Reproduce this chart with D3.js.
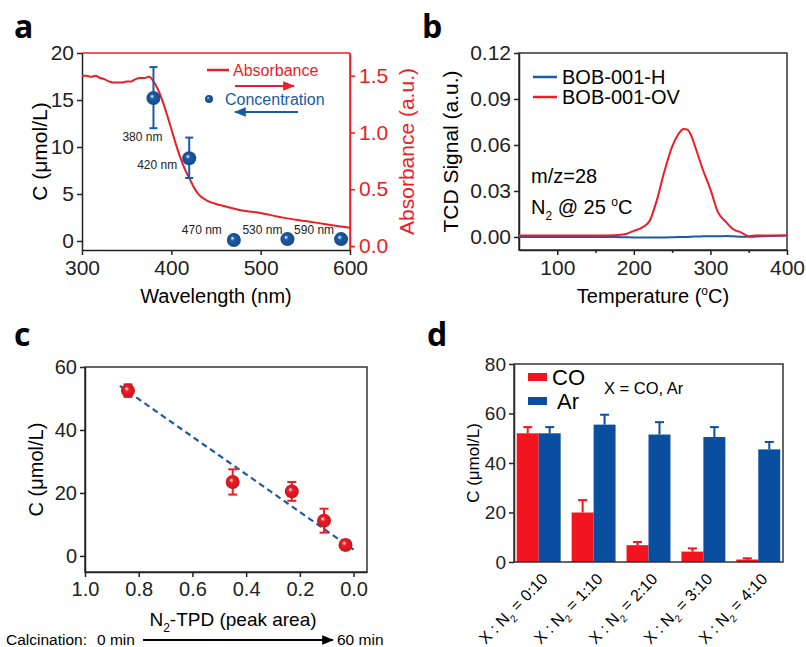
<!DOCTYPE html>
<html>
<head>
<meta charset="utf-8">
<script src="https://cdn.jsdelivr.net/npm/d3@7"></script>
<style>
  body { margin: 0; background: #fff; }
  text { font-family: "Liberation Sans", Arial, sans-serif; }
  .lbl { font-family: "Open Sans", "Liberation Sans", sans-serif; font-weight: bold; font-size: 32px; }
</style>
</head>
<body>
<script>
// ---- data, panel a
var absWl  = [300,305,310,315,320,325,330,335,340,345,350,355,360,365,370,375,380,385,390,395,400,405,410,415,420,425,430,440,450,460,475,500,525,550,575,600];
var absVal = [1.50,1.50,1.49,1.50,1.48,1.47,1.45,1.44,1.44,1.44,1.45,1.45,1.47,1.48,1.48,1.49,1.45,1.38,1.28,1.16,1.03,0.90,0.78,0.68,0.60,0.52,0.46,0.40,0.37,0.35,0.32,0.29,0.25,0.22,0.19,0.16];
var concWl  = [380, 420, 470, 530, 590];
var concVal = [15.2, 8.8, 0.1, 0.2, 0.2];
var concLo  = [12.0, 6.7, 0.1, 0.2, 0.2];
var concHi  = [18.5, 11.0, 0.1, 0.2, 0.2];

// ---- data, panel b
var tcdT  = [50,100,150,175,190,200,210,220,230,240,250,258,265,270,275,280,290,300,310,320,330,340,350,360,380,400];
var tcdOV = [0.001,0.001,0.001,0.0012,0.002,0.004,0.006,0.010,0.024,0.043,0.059,0.067,0.0705,0.070,0.066,0.059,0.044,0.031,0.016,0.010,0.005,0.003,0.0005,0.001,0.001,0.0012];
var tcdH  = [0,0,0,0,-0.0002,-0.0003,-0.0003,-0.0004,-0.0003,-0.0003,-0.0002,0,0,0,0.0002,0.0003,0.0004,0.0005,0.0005,0.0006,0.0004,0.0002,0.0001,0.0003,0.0006,0.001];

// ---- data, panel c
var tpdArea = [0.84, 0.45, 0.23, 0.11, 0.03];
var tpdC    = [52.5, 23.5, 20.5, 11.2, 3.5];
var tpdErr  = [2.0, 4.0, 3.0, 3.8, 1.5];
var fitX = [0.87, 0.0];
var fitY = [54.0, 2.0];

// ---- data, panel d
var ratios = ["0:10", "1:10", "2:10", "3:10", "4:10"];
var coVal = [52, 20, 6.8, 4.2, 1.0];
var coErr = [2.5, 5.0, 1.3, 1.3, 0.5];
var arVal = [52, 55.5, 51.5, 50.5, 45.5];
var arErr = [2.5, 4.0, 5.0, 4.0, 3.0];

var RED = "#ee1c25", BLUE = "#1b5aa5", BARRED = "#f2141e", BARBLUE = "#0a4f9f";

var svg = d3.select("body").append("svg").attr("width", 806).attr("height", 647);
var defs = svg.append("defs");

function sphereGrad(id, col) {
  var g = defs.append("radialGradient").attr("id", id)
    .attr("cx", "50%").attr("cy", "50%").attr("r", "55%").attr("fx", "38%").attr("fy", "35%");
  g.append("stop").attr("offset", "0%").attr("stop-color", "#ffffff");
  g.append("stop").attr("offset", "30%").attr("stop-color", col);
  g.append("stop").attr("offset", "100%").attr("stop-color", d3.color(col).darker(0.6));
}
sphereGrad("sphB", BLUE);
sphereGrad("sphR", RED);

function arrowHead(id, col) {
  defs.append("marker").attr("id", id).attr("viewBox", "0 0 10 10").attr("refX", 9).attr("refY", 5)
    .attr("markerWidth", 6).attr("markerHeight", 6).attr("orient", "auto")
    .append("path").attr("d", "M0,1L10,5L0,9z").attr("fill", col);
}
arrowHead("arR", RED); arrowHead("arB", BLUE); arrowHead("arK", "#000");

function styleAxis(g, col, fs) {
  g.selectAll("path, line").attr("stroke", col).attr("stroke-width", 1.5);
  g.selectAll("text").attr("fill", col).style("font-size", fs + "px")
    .style("font-family", "'Liberation Sans', Arial, sans-serif");
}

function frame(l, r, t, b, col) {
  svg.append("rect").attr("x", l).attr("y", t).attr("width", r - l).attr("height", b - t)
    .attr("fill", "none").attr("stroke", col || "#333").attr("stroke-width", 1.5);
}

// ================= panel a =================
(function() {
  var L = 82, R = 350, T = 53, B = 250;
  var x = d3.scaleLinear().domain([300, 600]).range([L, R]);
  var y = d3.scaleLinear().domain([-0.96, 20]).range([B, T]);
  var y2 = d3.scaleLinear().domain([-0.035, 1.70]).range([B, T]);

  // red top + right
  svg.append("line").attr("x1", L).attr("x2", R).attr("y1", T).attr("y2", T).attr("stroke", RED).attr("stroke-width", 1.5);
  svg.append("line").attr("x1", R).attr("x2", R).attr("y1", T).attr("y2", B).attr("stroke", RED).attr("stroke-width", 1.5);

  var gx = svg.append("g").attr("transform", "translate(0," + B + ")")
    .call(d3.axisBottom(x).tickValues([300, 400, 500, 600]).tickSize(5).tickSizeOuter(0).tickPadding(5));
  styleAxis(gx, "#222", 21);
  var gy = svg.append("g").attr("transform", "translate(" + L + ",0)")
    .call(d3.axisLeft(y).tickValues([0, 5, 10, 15, 20]).tickSize(5).tickSizeOuter(0).tickPadding(3));
  styleAxis(gy, "#222", 21);
  var gy2 = svg.append("g").attr("transform", "translate(" + R + ",0)")
    .call(d3.axisRight(y2).tickValues([0, 0.5, 1.0, 1.5]).tickFormat(d3.format(".1f")).tickSize(5).tickSizeOuter(0).tickPadding(4));
  styleAxis(gy2, RED, 21);

  svg.append("text").attr("x", (L + R) / 2).attr("y", 303).attr("text-anchor", "middle")
    .style("font-size", "20px").text("Wavelength (nm)");
  svg.append("text").attr("transform", "translate(47," + ((T + B) / 2) + ") rotate(-90)")
    .attr("text-anchor", "middle").style("font-size", "21px").text("C (\u03bcmol/L)");
  svg.append("text").attr("transform", "translate(414," + ((T + B) / 2) + ") rotate(-90)")
    .attr("text-anchor", "middle").attr("fill", RED).style("font-size", "21px").text("Absorbance (a.u.)");

  var line = d3.line().x(function(d, i) { return x(absWl[i]); }).y(function(d) { return y2(d); }).curve(d3.curveMonotoneX);
  svg.append("path").attr("d", line(absVal)).attr("fill", "none").attr("stroke", RED).attr("stroke-width", 2);

  // error bars + spheres
  concWl.forEach(function(w, i) {
    if (concHi[i] - concLo[i] > 0.5) {
      svg.append("line").attr("x1", x(w)).attr("x2", x(w)).attr("y1", y(concLo[i])).attr("y2", y(concHi[i]))
        .attr("stroke", BLUE).attr("stroke-width", 2);
      [concLo[i], concHi[i]].forEach(function(v) {
        svg.append("line").attr("x1", x(w) - 4).attr("x2", x(w) + 4).attr("y1", y(v)).attr("y2", y(v))
          .attr("stroke", BLUE).attr("stroke-width", 2);
      });
    }
    svg.append("circle").attr("cx", x(w)).attr("cy", y(concVal[i])).attr("r", 7).attr("fill", "url(#sphB)");
  });
  // label offsets from each point
  var nmOff = [[-11, 39], [-32, 7], [-32, -10], [-25, -9], [-27, -9]];
  concWl.forEach(function(w, i) {
    svg.append("text").attr("x", x(w) + nmOff[i][0]).attr("y", y(concVal[i]) + nmOff[i][1]).attr("dy", "0.35em")
      .attr("text-anchor", "middle").style("font-size", "12px").attr("fill", "#222").text(w + " nm");
  });

  // legend
  svg.append("line").attr("x1", 207).attr("x2", 229).attr("y1", 70).attr("y2", 70).attr("stroke", RED).attr("stroke-width", 2.5);
  svg.append("text").attr("x", 233).attr("y", 70).attr("dy", "0.35em").attr("fill", RED).style("font-size", "16px").text("Absorbance");
  svg.append("line").attr("x1", 235).attr("x2", 294).attr("y1", 86).attr("y2", 86).attr("stroke", RED).attr("stroke-width", 2).attr("marker-end", "url(#arR)");
  svg.append("circle").attr("cx", 209).attr("cy", 99).attr("r", 4).attr("fill", "url(#sphB)");
  svg.append("text").attr("x", 225).attr("y", 99).attr("dy", "0.35em").attr("fill", BLUE).style("font-size", "16px").text("Concentration");
  svg.append("line").attr("x1", 298).attr("x2", 235).attr("y1", 112).attr("y2", 112).attr("stroke", BLUE).attr("stroke-width", 2).attr("marker-end", "url(#arB)");

  svg.append("text").attr("class", "lbl").attr("x", 14).attr("y", 38).text("a");
})();

// ================= panel b =================
(function() {
  var L = 519, R = 787, T = 53, B = 250;
  var x = d3.scaleLinear().domain([50, 400]).range([L, R]);
  var y = d3.scaleLinear().domain([-0.0085, 0.12]).range([B, T]);
  frame(L, R, T, B, "#333");

  var gx = svg.append("g").attr("transform", "translate(0," + B + ")")
    .call(d3.axisBottom(x).tickValues([100, 200, 300, 400]).tickSize(5).tickSizeOuter(0).tickPadding(5));
  styleAxis(gx, "#222", 21);
  var gxm = svg.append("g").attr("transform", "translate(0," + B + ")")
    .call(d3.axisBottom(x).tickValues([150, 250, 350]).tickSize(3).tickSizeOuter(0).tickFormat(""));
  styleAxis(gxm, "#222", 21);
  gxm.select(".domain").remove();
  var gy = svg.append("g").attr("transform", "translate(" + L + ",0)")
    .call(d3.axisLeft(y).tickValues([0, 0.03, 0.06, 0.09, 0.12]).tickFormat(d3.format(".2f")).tickSize(5).tickSizeOuter(0).tickPadding(3));
  styleAxis(gy, "#222", 21);

  svg.append("text").attr("x", (L + R) / 2).attr("y", 303).attr("text-anchor", "middle").style("font-size", "20px")
    .html("Temperature (<tspan dy='-8' style='font-size:12px'>o</tspan><tspan dy='8'>C)</tspan>");
  svg.append("text").attr("transform", "translate(458," + ((T + B) / 2) + ") rotate(-90)")
    .attr("text-anchor", "middle").style("font-size", "21px").text("TCD Signal (a.u.)");

  var lineFor = function(arr) {
    return d3.line().x(function(d, i) { return x(tcdT[i]); }).y(function(d) { return y(d); }).curve(d3.curveMonotoneX)(arr);
  };
  svg.append("path").attr("d", lineFor(tcdH)).attr("fill", "none").attr("stroke", BLUE).attr("stroke-width", 2);
  svg.append("path").attr("d", lineFor(tcdOV)).attr("fill", "none").attr("stroke", RED).attr("stroke-width", 2);

  svg.append("line").attr("x1", 533).attr("x2", 557).attr("y1", 77).attr("y2", 77).attr("stroke", BLUE).attr("stroke-width", 2.5);
  svg.append("text").attr("x", 562).attr("y", 77).attr("dy", "0.35em").style("font-size", "20px").text("BOB-001-H");
  svg.append("line").attr("x1", 533).attr("x2", 557).attr("y1", 97).attr("y2", 97).attr("stroke", RED).attr("stroke-width", 2.5);
  svg.append("text").attr("x", 562).attr("y", 97).attr("dy", "0.35em").style("font-size", "20px").text("BOB-001-OV");

  svg.append("text").attr("x", 531).attr("y", 176).attr("dy", "0.35em").style("font-size", "20px").text("m/z=28");
  svg.append("text").attr("x", 531).attr("y", 207).attr("dy", "0.35em").style("font-size", "20px")
    .html("N<tspan dy='6' style='font-size:12px'>2</tspan><tspan dy='-6'> @ 25 </tspan><tspan dy='-8' style='font-size:12px'>o</tspan><tspan dy='8'>C</tspan>");

  svg.append("text").attr("class", "lbl").attr("x", 422).attr("y", 38).text("b");
})();

// ================= panel c =================
(function() {
  var L = 85, R = 367, T = 367, B = 572;
  var x = d3.scaleLinear().domain([1.0, -0.05]).range([L, R]);
  var y = d3.scaleLinear().domain([-5.1, 60]).range([B, T]);
  frame(L, R, T, B, "#333");

  var gx = svg.append("g").attr("transform", "translate(0," + B + ")")
    .call(d3.axisBottom(x).tickValues([1.0, 0.8, 0.6, 0.4, 0.2, 0.0]).tickFormat(d3.format(".1f")).tickSize(5).tickSizeOuter(0).tickPadding(5));
  styleAxis(gx, "#222", 20);
  var gy = svg.append("g").attr("transform", "translate(" + L + ",0)")
    .call(d3.axisLeft(y).tickValues([0, 20, 40, 60]).tickSize(5).tickSizeOuter(0).tickPadding(3));
  styleAxis(gy, "#222", 20);

  svg.append("text").attr("transform", "translate(43," + ((T + B) / 2) + ") rotate(-90)")
    .attr("text-anchor", "middle").style("font-size", "20px").text("C (\u03bcmol/L)");
  svg.append("text").attr("x", 233).attr("y", 626).attr("text-anchor", "middle").style("font-size", "19px")
    .html("N<tspan dy='6' style='font-size:12px'>2</tspan><tspan dy='-6'>-TPD (peak area)</tspan>");
  svg.append("text").attr("x", 6).attr("y", 645).style("font-size", "15.5px").text("Calcination:");
  svg.append("text").attr("x", 97).attr("y", 645).style("font-size", "15.5px").text("0 min");
  svg.append("line").attr("x1", 143).attr("x2", 333).attr("y1", 640).attr("y2", 640).attr("stroke", "#000").attr("stroke-width", 2).attr("marker-end", "url(#arK)");
  svg.append("text").attr("x", 337).attr("y", 645).style("font-size", "15.5px").text("60 min");

  svg.append("line").attr("x1", x(fitX[0])).attr("x2", x(fitX[1])).attr("y1", y(fitY[0])).attr("y2", y(fitY[1]))
    .attr("stroke", BLUE).attr("stroke-width", 2.2).attr("stroke-dasharray", "6,4");

  tpdArea.forEach(function(a, i) {
    var cx = x(a);
    svg.append("line").attr("x1", cx).attr("x2", cx).attr("y1", y(tpdC[i] - tpdErr[i])).attr("y2", y(tpdC[i] + tpdErr[i]))
      .attr("stroke", RED).attr("stroke-width", 2);
    [tpdC[i] - tpdErr[i], tpdC[i] + tpdErr[i]].forEach(function(v) {
      svg.append("line").attr("x1", cx - 4.5).attr("x2", cx + 4.5).attr("y1", y(v)).attr("y2", y(v)).attr("stroke", RED).attr("stroke-width", 2);
    });
    svg.append("circle").attr("cx", cx).attr("cy", y(tpdC[i])).attr("r", 7).attr("fill", "url(#sphR)");
  });

  svg.append("text").attr("class", "lbl").attr("x", 14).attr("y", 346).text("c");
})();

// ================= panel d =================
(function() {
  var L = 514, R = 783, T = 364, B = 562;
  var x = d3.scaleBand().domain(ratios).range([L, R]).paddingInner(0.2).paddingOuter(0.05);
  var xs = d3.scaleBand().domain(["CO", "Ar"]).range([0, x.bandwidth()]);
  var y = d3.scaleLinear().domain([0, 80]).range([B, T]);

  var gy = svg.append("g").attr("transform", "translate(" + L + ",0)")
    .call(d3.axisLeft(y).tickValues([0, 20, 40, 60, 80]).tickSize(5).tickSizeOuter(0).tickPadding(3));
  styleAxis(gy, "#222", 19);

  var groups = svg.append("g").selectAll("g").data(ratios).enter().append("g")
    .attr("transform", function(d) { return "translate(" + x(d) + ",0)"; });
  function bars(key, vals, errs, col) {
    groups.append("line").attr("x1", xs(key) + xs.bandwidth() / 2).attr("x2", xs(key) + xs.bandwidth() / 2)
      .attr("y1", function(d, i) { return y(vals[i]); }).attr("y2", function(d, i) { return y(vals[i] + errs[i]); })
      .attr("stroke", col).attr("stroke-width", 2);
    groups.append("line").attr("x1", xs(key) + xs.bandwidth() / 2 - 4.5).attr("x2", xs(key) + xs.bandwidth() / 2 + 4.5)
      .attr("y1", function(d, i) { return y(vals[i] + errs[i]); }).attr("y2", function(d, i) { return y(vals[i] + errs[i]); })
      .attr("stroke", col).attr("stroke-width", 2);
    groups.append("rect").attr("x", xs(key)).attr("width", xs.bandwidth())
      .attr("y", function(d, i) { return y(vals[i]); }).attr("height", function(d, i) { return B - y(vals[i]); })
      .attr("fill", col);
  }
  bars("CO", coVal, coErr, BARRED);
  bars("Ar", arVal, arErr, BARBLUE);
  frame(L, R, T, B, "#333");

  ratios.forEach(function(r) {
    var cx = x(r) + x.bandwidth() / 2 + 6;
    svg.append("text").attr("transform", "translate(" + cx + "," + (B + 14) + ") rotate(-46)")
      .attr("text-anchor", "end").attr("dy", "0.35em").style("font-size", "16px")
      .html("X : N<tspan dy='5' style='font-size:10px'>2</tspan><tspan dy='-5'> = " + r + "</tspan>");
  });

  svg.append("text").attr("transform", "translate(479," + ((T + B) / 2) + ") rotate(-90)")
    .attr("text-anchor", "middle").style("font-size", "17px").text("C (\u03bcmol/L)");

  svg.append("rect").attr("x", 528).attr("y", 373).attr("width", 19).attr("height", 8).attr("fill", BARRED);
  svg.append("text").attr("x", 552).attr("y", 377).attr("dy", "0.35em").style("font-size", "22px").text("CO");
  svg.append("rect").attr("x", 528).attr("y", 397).attr("width", 19).attr("height", 8).attr("fill", BARBLUE);
  svg.append("text").attr("x", 557).attr("y", 401).attr("dy", "0.35em").style("font-size", "22px").text("Ar");
  svg.append("text").attr("x", 604).attr("y", 388).attr("dy", "0.35em").style("font-size", "16.5px").text("X = CO, Ar");

  svg.append("text").attr("class", "lbl").attr("x", 427).attr("y", 346).text("d");
})();
</script>
</body>
</html>
